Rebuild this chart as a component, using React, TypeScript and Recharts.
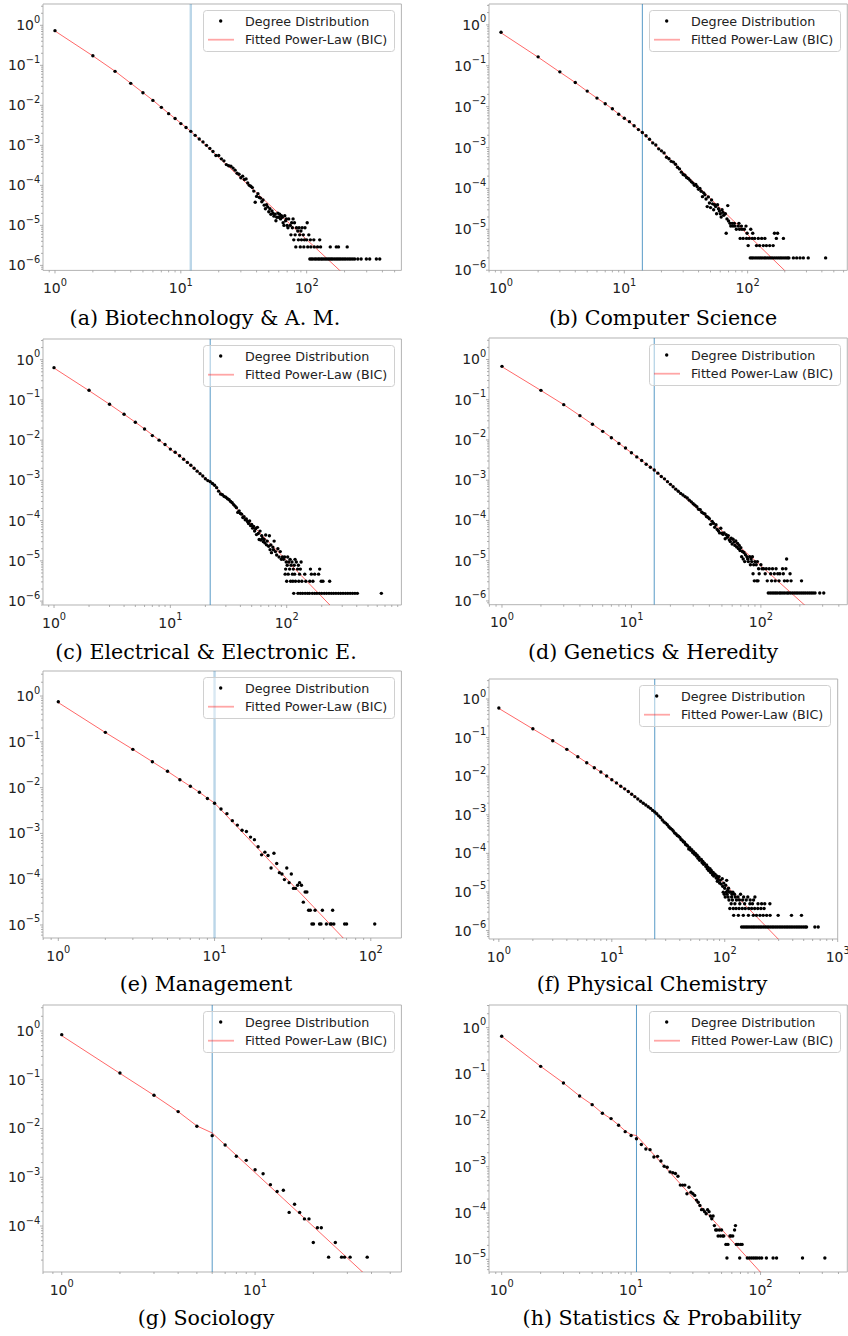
import React from 'react'
import { ComposedChart, Scatter, Line, XAxis, YAxis, ReferenceLine, ReferenceArea } from 'recharts'

type Pt = [number, number]

// (a) Biotechnology & A. M.
const bioDegree: Pt[] = [
  [1, 0.735], [2, 0.174], [3, 0.0708], [4, 0.0355], [5, 0.0207], [6, 0.0133], [7, 0.0089], [8, 0.0062], [9, 0.0047], [10, 0.0035], [11, 0.0028], [12, 0.00224],
  [13, 1.78e-3], [14, 1.44e-3], [15, 1.22e-3], [16, 1.0e-3], [17, 8.4e-4], [18, 7.0e-4], [19, 5.6e-4], [20, 5.6e-4], [21, 4.6e-4], [22, 4.1e-4], [23, 3.3e-4], [24, 3.1e-4], [25, 3.0e-4], [26, 2.7e-4], [27, 2.4e-4], [28, 2.0e-4], [29, 1.9e-4], [30, 1.55e-4], [31, 1.7e-4], [32, 1.4e-4], [33, 1.45e-4], [34, 1.15e-4], [35, 1.0e-4], [36, 9.5e-5], [37, 8.8e-5], [38, 7.2e-5], [39, 3.8e-5], [40, 5.3e-5], [41, 6.2e-5], [42, 5.0e-5], [43, 4.8e-5], [44, 3.9e-5], [45, 4.3e-5], [46, 3.2e-5], [47, 2.6e-5], [48, 3.3e-5], [49, 2.9e-5], [50, 2.2e-5], [51, 2.6e-5], [52, 1.9e-5], [53, 2.3e-5], [54, 2.0e-5], [55, 1.7e-5], [56, 1.9e-5], [57, 1.3e-5], [58, 1.6e-5], [59, 2.03e-5], [60, 1.6e-5], [61, 1.9e-5], [62, 1.45e-5], [63, 1.74e-5], [64, 1.6e-5], [65, 1.16e-5], [66, 1.0e-5], [67, 1.74e-5], [68, 1.3e-5],
  [69, 1.45e-5], [72, 1.45e-5], [78, 1.45e-5], [76, 1.16e-5], [80, 1.16e-5], [101, 1.16e-5], [70, 1.0e-5], [74, 1.0e-5],
  [71, 8.7e-6], [77, 8.7e-6], [83, 8.7e-6], [87, 8.7e-6], [92, 8.7e-6], [97, 8.7e-6], [85, 7.25e-6], [90, 7.25e-6],
  [75, 5.8e-6], [81, 5.8e-6], [88, 5.8e-6], [94, 5.8e-6], [104, 5.8e-6],
  [79, 4.35e-6], [86, 4.35e-6], [91, 4.35e-6], [96, 4.35e-6], [100, 4.35e-6], [107, 4.35e-6], [114, 4.35e-6], [127, 4.35e-6],
  [82, 2.9e-6], [89, 2.9e-6], [95, 2.9e-6], [102, 2.9e-6], [108, 2.9e-6], [115, 2.9e-6], [122, 2.9e-6], [129, 2.9e-6], [154, 2.9e-6], [172, 2.9e-6], [179, 2.9e-6], [210, 2.9e-6],
  [106, 1.45e-6], [109, 1.45e-6], [112, 1.45e-6], [116, 1.45e-6], [119, 1.45e-6], [123, 1.45e-6], [126, 1.45e-6], [130, 1.45e-6], [133, 1.45e-6], [137, 1.45e-6], [141, 1.45e-6], [145, 1.45e-6], [149, 1.45e-6], [153, 1.45e-6], [157, 1.45e-6], [161, 1.45e-6], [166, 1.45e-6], [171, 1.45e-6], [176, 1.45e-6], [181, 1.45e-6], [186, 1.45e-6], [192, 1.45e-6], [198, 1.45e-6], [204, 1.45e-6], [211, 1.45e-6], [218, 1.45e-6], [225, 1.45e-6], [233, 1.45e-6], [241, 1.45e-6], [255, 1.45e-6], [271, 1.45e-6], [298, 1.45e-6], [317, 1.45e-6], [358, 1.45e-6], [381, 1.45e-6],
]
const bioFit: Pt[] = [[1, 0.72], [2, 0.172], [3, 0.0715], [4, 0.0357], [5, 0.0208], [6, 0.0134], [7, 0.0089], [8, 0.0063], [9, 0.0047], [10, 0.0036], [11, 0.0028], [12, 0.00224], [250, 3.0e-7]]

// (b) Computer Science
const csDegree: Pt[] = [
  [1, 0.66], [2, 0.165], [3, 0.071], [4, 0.039], [5, 0.024], [6, 0.0162], [7, 0.0118], [8, 0.0089], [9, 0.0065], [10, 0.0052], [11, 0.0043], [12, 0.0034], [13, 0.00275], [14, 0.00233],
  [15, 1.95e-3], [16, 1.6e-3], [17, 1.3e-3], [18, 1.15e-3], [19, 9.3e-4], [20, 8.3e-4], [21, 7.4e-4], [22, 5.8e-4], [23, 5.3e-4], [24, 4.6e-4], [25, 4.4e-4], [26, 3.9e-4], [27, 3.3e-4], [28, 3.0e-4], [29, 2.5e-4], [30, 2.2e-4], [31, 2.1e-4], [32, 1.85e-4], [33, 1.75e-4], [34, 1.6e-4], [35, 1.45e-4], [36, 1.35e-4], [37, 1.2e-4], [38, 1.25e-4], [39, 1.1e-4], [40, 9.5e-5], [41, 1.0e-4], [42, 8.5e-5], [43, 6.3e-5], [44, 7.8e-5], [45, 7.0e-5], [46, 5.5e-5], [47, 3.6e-5], [48, 6.2e-5], [49, 4.4e-5], [50, 3.4e-5], [51, 5.2e-5], [52, 4.2e-5], [53, 3.0e-5], [54, 4.0e-5], [55, 3.6e-5], [56, 2.4e-5], [57, 4.0e-5], [58, 3.2e-5], [59, 2.8e-5], [60, 2.4e-5], [61, 2.0e-5], [62, 3.0e-5], [63, 2.6e-5], [64, 2.2e-5], [66, 2.4e-5], [68, 1.8e-5], [69, 3.8e-5], [70, 1.6e-5], [72, 1.4e-5], [73, 1.2e-5], [75, 1.4e-5], [78, 1.4e-5], [85, 1.4e-5], [89, 1.2e-5],
  [76, 1.2e-5], [79, 1.2e-5], [84, 1.2e-5], [97, 1.2e-5], [81, 1.0e-5], [86, 1.0e-5], [90, 1.0e-5], [94, 1.0e-5], [106, 1.0e-5],
  [67, 8e-6], [99, 8e-6], [110, 8e-6], [165, 8e-6], [175, 8e-6],
  [87, 6e-6], [92, 6e-6], [98, 6e-6], [103, 6e-6], [109, 6e-6], [114, 6e-6], [122, 6e-6], [130, 6e-6], [138, 6e-6], [171, 6e-6], [195, 6e-6],
  [101, 4e-6], [118, 4e-6], [125, 4e-6], [134, 4e-6], [142, 4e-6], [151, 4e-6], [161, 4e-6],
  [105, 2e-6], [108, 2e-6], [111, 2e-6], [115, 2e-6], [119, 2e-6], [123, 2e-6], [127, 2e-6], [131, 2e-6], [136, 2e-6], [140, 2e-6], [145, 2e-6], [150, 2e-6], [155, 2e-6], [160, 2e-6], [166, 2e-6], [172, 2e-6], [178, 2e-6], [184, 2e-6], [190, 2e-6], [197, 2e-6], [204, 2e-6], [211, 2e-6], [216, 2e-6], [235, 2e-6], [250, 2e-6], [266, 2e-6], [283, 2e-6], [310, 2e-6], [429, 2e-6],
]
const csFit: Pt[] = [[1, 0.64], [2, 0.162], [3, 0.07], [4, 0.039], [5, 0.0238], [6, 0.0162], [7, 0.0118], [8, 0.0088], [9, 0.0066], [10, 0.0052], [12, 0.0034], [14, 0.00233], [250, 5.1e-7]]

// (c) Electrical & Electronic E.
const eeDegree: Pt[] = [
  [1, 0.635], [2, 0.174], [3, 0.078], [4, 0.044], [5, 0.0278], [6, 0.019], [7, 0.013], [8, 0.01], [9, 0.0078], [10, 0.006], [11, 0.005], [12, 0.0041], [13, 0.00335], [14, 0.0028], [15, 0.00237], [16, 0.002], [17, 0.0017], [18, 0.00147], [19, 0.00129], [20, 0.0011], [21, 0.00099], [22, 0.00093],
  [23, 8.4e-4], [24, 7.6e-4], [25, 6.6e-4], [26, 5.4e-4], [27, 4.6e-4], [28, 4.4e-4], [29, 4.0e-4], [30, 3.8e-4], [31, 3.5e-4], [32, 3.3e-4], [33, 3.0e-4], [34, 2.8e-4], [35, 2.5e-4], [36, 2.3e-4], [37, 2.1e-4], [38, 1.6e-4], [39, 1.75e-4], [40, 1.5e-4], [41, 1.45e-4], [42, 1.2e-4], [43, 1.25e-4], [44, 1.05e-4], [45, 1.1e-4], [46, 9.5e-5], [47, 8.5e-5], [48, 9.8e-5], [49, 7.5e-5], [50, 8.0e-5], [51, 6.5e-5], [52, 7.2e-5], [53, 5.5e-5], [54, 6.3e-5], [55, 4.5e-5], [56, 6.8e-5], [57, 4.8e-5], [58, 3.4e-5], [59, 5.5e-5], [60, 3.3e-5], [61, 4.2e-5], [62, 3.6e-5], [63, 3.0e-5], [64, 3.4e-5], [65, 2.8e-5], [66, 4.4e-5], [67, 2.5e-5], [68, 3.1e-5], [70, 2.3e-5], [71, 4.2e-5], [72, 1.9e-5], [73, 2.5e-5], [74, 1.6e-5], [76, 2.2e-5], [77, 1.9e-5], [78, 3.1e-5], [80, 1.7e-5], [82, 1.4e-5], [84, 2.0e-5], [86, 1.25e-5], [88, 1.7e-5], [90, 1.1e-5],
  [92, 1.25e-5], [96, 1.25e-5], [102, 1.25e-5], [94, 1.09e-5], [107, 1.09e-5], [118, 1.09e-5],
  [99, 9.4e-6], [104, 9.4e-6], [111, 9.4e-6], [121, 9.4e-6], [133, 9.4e-6], [101, 7.8e-6], [109, 7.8e-6], [116, 7.8e-6], [126, 7.8e-6],
  [98, 6.24e-6], [106, 6.24e-6], [114, 6.24e-6], [124, 6.24e-6], [131, 6.24e-6], [160, 6.24e-6], [192, 6.24e-6],
  [97, 4.68e-6], [103, 4.68e-6], [112, 4.68e-6], [117, 4.68e-6], [129, 4.68e-6], [143, 4.68e-6], [163, 4.68e-6], [174, 4.68e-6], [188, 4.68e-6],
  [100, 3.12e-6], [108, 3.12e-6], [113, 3.12e-6], [119, 3.12e-6], [127, 3.12e-6], [135, 3.12e-6], [146, 3.12e-6], [158, 3.12e-6], [168, 3.12e-6], [198, 3.12e-6], [205, 3.12e-6], [234, 3.12e-6],
  [115, 1.56e-6], [125, 1.56e-6], [131, 1.56e-6], [137, 1.56e-6], [144, 1.56e-6], [151, 1.56e-6], [157, 1.56e-6], [166, 1.56e-6], [174, 1.56e-6], [182, 1.56e-6], [191, 1.56e-6], [200, 1.56e-6], [210, 1.56e-6], [220, 1.56e-6], [231, 1.56e-6], [242, 1.56e-6], [253, 1.56e-6], [265, 1.56e-6], [278, 1.56e-6], [291, 1.56e-6], [305, 1.56e-6], [320, 1.56e-6], [335, 1.56e-6], [351, 1.56e-6], [368, 1.56e-6], [386, 1.56e-6], [405, 1.56e-6], [651, 1.56e-6],
]
const eeFit: Pt[] = [[1, 0.62], [2, 0.17], [3, 0.078], [4, 0.044], [5, 0.028], [6, 0.019], [8, 0.0101], [10, 0.006], [12, 0.0041], [14, 0.0028], [16, 0.002], [18, 0.00147], [20, 0.00111], [22, 0.00093], [300, 3.86e-7]]

// (d) Genetics & Heredity
const genDegree: Pt[] = [
  [1, 0.676], [2, 0.171], [3, 0.0754], [4, 0.0402], [5, 0.0245], [6, 0.0164], [7, 0.0114], [8, 0.0082], [9, 0.0063], [10, 0.0048], [11, 0.0038], [12, 0.0031], [13, 0.0025], [14, 0.0021], [15, 0.00179],
  [16, 1.5e-3], [17, 1.24e-3], [18, 1.08e-3], [19, 9.2e-4], [20, 7.9e-4], [21, 6.9e-4], [22, 6.0e-4], [23, 5.3e-4], [24, 4.7e-4], [25, 4.3e-4], [26, 3.9e-4], [27, 3.6e-4], [28, 3.2e-4], [29, 2.9e-4], [30, 2.6e-4], [31, 2.4e-4], [32, 2.2e-4], [33, 1.9e-4], [34, 1.85e-4], [35, 1.6e-4], [36, 1.5e-4], [37, 1.45e-4], [38, 1.25e-4], [39, 1.2e-4], [40, 1.1e-4], [41, 8.0e-5], [42, 9.5e-5], [43, 8.5e-5], [44, 6.8e-5], [45, 7.8e-5], [46, 6.0e-5], [47, 5.5e-5], [48, 4.9e-5], [49, 6.4e-5], [50, 4.8e-5], [51, 4.5e-5], [52, 4.9e-5], [53, 3.5e-5], [54, 4.4e-5], [55, 3.8e-5], [56, 4.2e-5], [57, 3.3e-5], [58, 3.0e-5], [59, 3.6e-5], [60, 2.6e-5], [61, 3.4e-5], [62, 2.9e-5], [63, 2.4e-5], [64, 3.1e-5], [65, 2.2e-5], [66, 2.7e-5], [67, 2.0e-5], [68, 2.4e-5], [69, 1.8e-5], [70, 2.1e-5], [72, 1.7e-5], [74, 1.6e-5], [76, 1.4e-5],
  [71, 1.26e-5], [78, 1.26e-5], [82, 1.26e-5], [86, 1.26e-5], [73, 1.1e-5], [79, 1.1e-5], [84, 1.1e-5], [158, 1.1e-5],
  [75, 9.5e-6], [80, 9.5e-6], [85, 9.5e-6], [90, 9.5e-6], [94, 9.5e-6], [83, 7.9e-6], [88, 7.9e-6], [92, 7.9e-6], [100, 7.9e-6],
  [96, 6.3e-6], [102, 6.3e-6], [105, 6.3e-6], [110, 6.3e-6], [116, 6.3e-6], [123, 6.3e-6], [131, 6.3e-6], [147, 6.3e-6], [156, 6.3e-6],
  [87, 4.74e-6], [97, 4.74e-6], [108, 4.74e-6], [119, 4.74e-6], [127, 4.74e-6], [135, 4.74e-6], [140, 4.74e-6], [149, 4.74e-6], [168, 4.74e-6],
  [89, 3.16e-6], [93, 3.16e-6], [95, 3.16e-6], [112, 3.16e-6], [121, 3.16e-6], [129, 3.16e-6], [138, 3.16e-6], [152, 3.16e-6], [160, 3.16e-6], [171, 3.16e-6], [206, 3.16e-6],
  [114, 1.58e-6], [118, 1.58e-6], [122, 1.58e-6], [126, 1.58e-6], [130, 1.58e-6], [134, 1.58e-6], [139, 1.58e-6], [143, 1.58e-6], [148, 1.58e-6], [153, 1.58e-6], [159, 1.58e-6], [163, 1.58e-6], [169, 1.58e-6], [175, 1.58e-6], [181, 1.58e-6], [187, 1.58e-6], [193, 1.58e-6], [200, 1.58e-6], [207, 1.58e-6], [214, 1.58e-6], [221, 1.58e-6], [229, 1.58e-6], [237, 1.58e-6], [245, 1.58e-6], [253, 1.58e-6], [262, 1.58e-6], [285, 1.58e-6], [306, 1.58e-6],
]
const genFit: Pt[] = [[1, 0.66], [2, 0.17], [3, 0.0755], [4, 0.0403], [5, 0.0246], [6, 0.0164], [7, 0.0115], [8, 0.0083], [10, 0.0048], [12, 0.0031], [15, 0.00179], [250, 5.3e-7]]

// (e) Management
const mgmtDegree: Pt[] = [
  [1, 0.752], [2, 0.161], [3, 0.0685], [4, 0.0368], [5, 0.0227], [6, 0.0149], [7, 0.0107], [8, 0.0079], [9, 0.0058], [10, 0.00454],
  [11, 0.0034], [12, 0.0027], [13, 0.0019], [14, 0.00152], [15, 0.00117], [16, 0.0011], [17, 8.3e-4], [18, 7.3e-4], [19, 5.1e-4], [20, 3.4e-4], [21, 3.9e-4], [22, 3.3e-4], [23, 1.76e-4], [24, 3.7e-4], [25, 2.2e-4], [26, 1.39e-4], [27, 1.3e-4], [28, 9.8e-5], [29, 1.76e-4], [30, 8.4e-5], [31, 1.3e-4], [32, 6.3e-5], [33, 6.3e-5], [34, 7.35e-5], [35, 8.4e-5], [36, 7.35e-5], [37, 3.15e-5], [38, 5.25e-5], [39, 5.25e-5], [40, 2.1e-5], [41, 2.1e-5], [42, 1.05e-5], [43, 1.05e-5], [44, 2.1e-5], [47, 1.05e-5], [48, 1.05e-5], [49, 2.1e-5], [52, 1.05e-5], [55, 1.05e-5], [56, 1.05e-5], [57, 2.1e-5], [58, 1.05e-5], [68, 1.05e-5], [70, 1.05e-5], [106, 1.05e-5],
]
const mgmtFit: Pt[] = [[1, 0.72], [2, 0.16], [3, 0.0685], [4, 0.0368], [5, 0.0227], [6, 0.015], [7, 0.0107], [8, 0.0079], [9, 0.0059], [10, 0.0046], [80, 2.7e-6]]

// (f) Physical Chemistry
const pchemDegree: Pt[] = [
  [1, 0.585], [2, 0.17], [3, 0.083], [4, 0.0497], [5, 0.032], [6, 0.0224], [7, 0.0166], [8, 0.0128], [9, 0.0101], [10, 0.0081], [11, 0.0067], [12, 0.0055], [13, 0.0047], [14, 0.004], [15, 0.0034], [16, 0.00295], [17, 0.00257], [18, 0.00224], [19, 0.002], [20, 0.0018], [21, 0.00162], [22, 0.00147], [23, 0.0013], [24, 0.00118],
  [25, 1.06e-3], [26, 9.4e-4], [27, 8.5e-4], [28, 7.3e-4], [29, 6.5e-4], [30, 6.1e-4], [31, 5.5e-4], [32, 4.9e-4], [33, 4.5e-4], [34, 4.2e-4], [35, 3.8e-4], [36, 3.4e-4], [37, 3.2e-4], [38, 2.9e-4], [39, 2.8e-4], [40, 2.6e-4], [41, 2.3e-4], [42, 2.2e-4], [43, 2.0e-4], [44, 1.95e-4], [45, 1.7e-4], [46, 1.65e-4], [47, 1.55e-4], [48, 1.3e-4], [49, 1.4e-4], [50, 1.2e-4], [51, 1.25e-4], [52, 1.05e-4], [53, 1.1e-4], [54, 9.5e-5], [55, 1.0e-4], [56, 8.5e-5], [57, 9.0e-5], [58, 7.5e-5], [59, 8.0e-5], [60, 6.6e-5], [62, 7.0e-5], [63, 5.8e-5], [64, 6.2e-5], [65, 5.2e-5], [66, 5.6e-5], [68, 4.6e-5], [69, 5.0e-5], [70, 4.0e-5], [71, 4.4e-5], [72, 3.6e-5], [74, 4.0e-5], [75, 3.2e-5], [76, 3.6e-5], [78, 2.8e-5], [79, 3.2e-5], [80, 2.6e-5], [82, 2.9e-5], [84, 2.3e-5], [85, 2.6e-5], [86, 1.9e-5], [87, 2.2e-5], [89, 2.5e-5], [90, 1.7e-5], [91, 2.0e-5], [93, 1.6e-5], [95, 2.2e-5], [96, 1.4e-5], [98, 1.7e-5], [100, 1.25e-5], [102, 1.5e-5], [104, 2.0e-5], [106, 1.1e-5], [108, 1.25e-5], [110, 1.0e-5],
  [97, 9.9e-6], [103, 9.9e-6], [113, 9.9e-6], [118, 9.9e-6], [99, 8.7e-6], [105, 8.7e-6], [116, 8.7e-6], [122, 8.7e-6], [138, 8.7e-6],
  [101, 7.4e-6], [107, 7.4e-6], [115, 7.4e-6], [124, 7.4e-6], [131, 7.4e-6], [147, 7.4e-6], [160, 7.4e-6], [185, 7.4e-6],
  [109, 6.2e-6], [117, 6.2e-6], [127, 6.2e-6], [135, 6.2e-6], [144, 6.2e-6], [155, 6.2e-6], [168, 6.2e-6], [180, 6.2e-6],
  [114, 4.96e-6], [123, 4.96e-6], [136, 4.96e-6], [150, 4.96e-6], [167, 4.96e-6], [176, 4.96e-6], [197, 4.96e-6], [212, 4.96e-6], [226, 4.96e-6], [251, 4.96e-6],
  [111, 3.72e-6], [119, 3.72e-6], [126, 3.72e-6], [134, 3.72e-6], [143, 3.72e-6], [152, 3.72e-6], [163, 3.72e-6], [173, 3.72e-6], [184, 3.72e-6], [196, 3.72e-6], [209, 3.72e-6], [223, 3.72e-6],
  [120, 2.48e-6], [132, 2.48e-6], [146, 2.48e-6], [162, 2.48e-6], [179, 2.48e-6], [191, 2.48e-6], [205, 2.48e-6], [219, 2.48e-6], [235, 2.48e-6], [252, 2.48e-6], [297, 2.48e-6], [390, 2.48e-6], [478, 2.48e-6],
  [141, 1.24e-6], [146, 1.24e-6], [151, 1.24e-6], [156, 1.24e-6], [161, 1.24e-6], [167, 1.24e-6], [173, 1.24e-6], [179, 1.24e-6], [185, 1.24e-6], [192, 1.24e-6], [199, 1.24e-6], [206, 1.24e-6], [213, 1.24e-6], [221, 1.24e-6], [229, 1.24e-6], [237, 1.24e-6], [245, 1.24e-6], [254, 1.24e-6], [263, 1.24e-6], [272, 1.24e-6], [282, 1.24e-6], [292, 1.24e-6], [303, 1.24e-6], [314, 1.24e-6], [325, 1.24e-6], [337, 1.24e-6], [349, 1.24e-6], [361, 1.24e-6], [374, 1.24e-6], [387, 1.24e-6], [401, 1.24e-6], [416, 1.24e-6], [431, 1.24e-6], [446, 1.24e-6], [462, 1.24e-6], [479, 1.24e-6], [497, 1.24e-6], [515, 1.24e-6], [530, 1.24e-6], [628, 1.24e-6], [672, 1.24e-6],
]
const pchemFit: Pt[] = [[1, 0.57], [2, 0.168], [3, 0.083], [4, 0.0497], [5, 0.032], [6, 0.0224], [8, 0.0128], [10, 0.0081], [12, 0.0055], [14, 0.004], [16, 0.00295], [18, 0.00224], [20, 0.0018], [22, 0.00147], [24, 0.00118], [350, 3.7e-7]]

// (g) Sociology
const socDegree: Pt[] = [
  [1, 0.84], [2, 0.137], [3, 0.048], [4, 0.0222], [5, 0.0111], [6, 0.00713], [7, 0.00459], [8, 0.00269], [9, 0.00222], [10, 0.00143], [11, 0.00118], [12, 7.05e-4], [13, 5.1e-4], [14, 5.4e-4], [15, 1.9e-4], [16, 2.8e-4], [17, 1.9e-4], [18, 1.4e-4], [19, 1.4e-4], [20, 4.6e-5], [21, 9.2e-5], [22, 9.2e-5], [24, 2.3e-5], [26, 4.6e-5], [28, 2.3e-5], [29, 2.3e-5], [31, 2.3e-5], [38, 2.3e-5],
]
const socFit: Pt[] = [[1, 0.8], [2, 0.135], [3, 0.048], [4, 0.0222], [5, 0.0113], [6, 0.0081], [40, 7.7e-6]]

// (h) Statistics & Probability
const statDegree: Pt[] = [
  [1, 0.65], [2, 0.146], [3, 0.064], [4, 0.0335], [5, 0.0218], [6, 0.0142], [7, 0.0109], [8, 0.0078], [9, 0.0057], [10, 0.0047], [11, 0.004],
  [12, 0.003], [13, 0.0024], [14, 0.00233], [15, 0.00162], [16, 0.00167], [17, 0.00132], [18, 0.00102], [19, 0.00097], [20, 0.00077], [21, 0.00074], [22, 0.00071], [23, 0.00062], [24, 0.0004], [25, 0.0004], [26, 0.0004], [27, 0.00026], [28, 0.00036], [29, 0.00028], [30, 0.00026], [31, 0.00024], [32, 0.00019], [33, 0.00017], [34, 0.000145], [35, 0.000118], [36, 0.000118], [37, 0.000107], [38, 9.6e-5], [39, 0.000118], [40, 0.000107], [41, 8.6e-5], [42, 7.5e-5], [43, 8.6e-5], [44, 5.35e-5], [45, 4.3e-5], [46, 4.3e-5], [47, 3.2e-5], [48, 4.3e-5], [49, 3.2e-5], [50, 4.3e-5], [51, 3.2e-5], [52, 3.2e-5], [54, 2.1e-5], [55, 1.07e-5], [56, 2.1e-5], [58, 3.2e-5], [59, 3.2e-5], [61, 3.2e-5], [63, 4.3e-5], [64, 5.35e-5], [65, 2.1e-5], [67, 2.1e-5], [69, 1.07e-5], [70, 2.1e-5], [72, 2.1e-5], [79, 1.07e-5], [82, 1.07e-5], [85, 1.07e-5], [88, 1.07e-5], [91, 1.07e-5], [94, 1.07e-5], [98, 1.07e-5], [102, 1.07e-5], [111, 1.07e-5], [125, 1.07e-5], [133, 1.07e-5], [211, 1.07e-5], [314, 1.07e-5],
]
const statFit: Pt[] = [[1, 0.65], [2, 0.146], [3, 0.064], [4, 0.0335], [5, 0.0218], [6, 0.0142], [7, 0.0108], [8, 0.0079], [9, 0.0059], [10, 0.0049], [11, 0.0047], [120, 3.0e-6]]

// major tick labels (powers of ten)
const xMajor2 = [1, 10, 100]
const xMajor3 = [1, 10, 100, 1000]
const xMajor1 = [1, 10]
const yMajor6 = [1, 0.1, 0.01, 1e-3, 1e-4, 1e-5, 1e-6]
const yMajor5 = [1, 0.1, 0.01, 1e-3, 1e-4, 1e-5]
const yMajor4 = [1, 0.1, 0.01, 1e-3, 1e-4]

interface PanelSpec {
  caption: string
  capX: number
  capY: number
  box: [number, number, number, number]
  xDom: [number, number]
  yDom: [number, number]
  xMajor: number[]
  yMajor: number[]
  degree: Pt[]
  fit: Pt[]
  xmin: number
  faint?: boolean
}

const panels: PanelSpec[] = [
  { caption: '(a) Biotechnology & A. M.', capX: 205, capY: 318, box: [43.3, 4.3, 401.7, 270.7], xDom: [0.803, 566], yDom: [7.5e-7, 3.41], xMajor: xMajor2, yMajor: yMajor6, degree: bioDegree, fit: bioFit, xmin: 12, faint: true },
  { caption: '(b) Computer Science', capX: 663, capY: 318, box: [489, 4.3, 847.3, 270.7], xDom: [0.799, 643], yDom: [9.9e-7, 3.24], xMajor: xMajor2, yMajor: yMajor6, degree: csDegree, fit: csFit, xmin: 14 },
  { caption: '(c) Electrical & Electronic E.', capX: 206, capY: 652, box: [43.3, 339, 401.7, 605], xDom: [0.804, 968], yDom: [8.0e-7, 3.27], xMajor: xMajor2, yMajor: yMajor6, degree: eeDegree, fit: eeFit, xmin: 22 },
  { caption: '(d) Genetics & Heredity', capX: 653, capY: 652, box: [489, 338.3, 847.3, 605], xDom: [0.794, 465], yDom: [8.07e-7, 3.42], xMajor: xMajor2, yMajor: yMajor6, degree: genDegree, fit: genFit, xmin: 15 },
  { caption: '(e) Management', capX: 206, capY: 984, box: [43.3, 671.3, 401.7, 938.3], xDom: [0.798, 157], yDom: [5.2e-6, 3.52], xMajor: xMajor2, yMajor: yMajor5, degree: mgmtDegree, fit: mgmtFit, xmin: 10, faint: true },
  { caption: '(f) Physical Chemistry', capX: 652, capY: 984, box: [489, 679.3, 837.7, 939.3], xDom: [0.818, 1000], yDom: [6.05e-7, 3.3], xMajor: xMajor3, yMajor: yMajor6, degree: pchemDegree, fit: pchemFit, xmin: 24 },
  { caption: '(g) Sociology', capX: 206, capY: 1318, box: [43.3, 1005.3, 401.7, 1272.3], xDom: [0.8, 57.1], yDom: [1.14e-5, 3.41], xMajor: xMajor1, yMajor: yMajor4, degree: socDegree, fit: socFit, xmin: 6 },
  { caption: '(h) Statistics & Probability', capX: 662, capY: 1318, box: [489, 1005.3, 847.3, 1272.3], xDom: [0.798, 468], yDom: [5.33e-6, 3.08], xMajor: xMajor2, yMajor: yMajor5, degree: statDegree, fit: statFit, xmin: 11 },
]

const SANS = '"DejaVu Sans", sans-serif'
const SERIF = '"DejaVu Serif", serif'
const SPINE = '#b3b3b3'

const YW = 50
const XH = 30
const MT = 6
const MR = 14
const LW = 192
const LH = 42

function isMajor(v: number) {
  const l = Math.log10(v)
  return Math.abs(l - Math.round(l)) < 1e-6
}
function expLabel(v: number) {
  const e = Math.round(Math.log10(v))
  return e < 0 ? '\u2212' + -e : String(e)
}
// majors plus the 2..9 minor ticks of a log axis
function withMinor(major: number[], dom: [number, number]) {
  const out = [...major]
  const lo = Math.floor(Math.log10(dom[0]))
  const hi = Math.ceil(Math.log10(dom[1]))
  for (let k = lo; k <= hi; k++) {
    for (let m = 2; m <= 9; m++) {
      const v = m * Math.pow(10, k)
      if (v >= dom[0] && v <= dom[1]) out.push(v)
    }
  }
  return out
}

const XTick = (p: any) => {
  const v = p.payload.value
  const major = isMajor(v)
  return (
    <g>
      <line x1={p.x} x2={p.x} y1={p.y} y2={p.y + (major ? 3 : 2)} stroke="#999" strokeWidth={0.8} />
      {major && (
        <text x={p.x} y={p.y + 22.8} textAnchor="middle" fontFamily={SANS} fontSize={14} fill="#222">
          10<tspan dy={-7.5} fontSize={9.8}>{expLabel(v)}</tspan>
        </text>
      )}
    </g>
  )
}

const YTick = (p: any) => {
  const v = p.payload.value
  const major = isMajor(v)
  return (
    <g>
      <line x1={p.x - (major ? 3 : 2)} x2={p.x} y1={p.y} y2={p.y} stroke="#999" strokeWidth={0.8} />
      {major && (
        <text x={p.x - 2.8} y={p.y + 5} textAnchor="end" fontFamily={SANS} fontSize={14} fill="#222">
          10<tspan dy={-7.5} fontSize={9.8}>{expLabel(v)}</tspan>
        </text>
      )}
    </g>
  )
}

const Dot = (p: any) => <circle cx={p.cx} cy={p.cy} r={1.7} fill="#000" />

function LegendBox({ left, top }: { left: number; top: number }) {
  return (
    <svg style={{ position: 'absolute', left, top }} width={LW} height={LH}>
      <rect x={0.5} y={0.5} width={LW - 1} height={LH - 1} rx={3} fill="#fff" fillOpacity={0.45} stroke="#d0d0d0" />
      <circle cx={17.7} cy={11} r={1.7} fill="#000" />
      <text x={42} y={15.5} fontFamily={SANS} fontSize={12.7} fill="#222">Degree Distribution</text>
      <line x1={5} x2={31} y1={29.7} y2={29.7} stroke="#ff0000" strokeOpacity={0.35} strokeWidth={1.8} />
      <text x={42} y={34.2} fontFamily={SANS} fontSize={12.7} fill="#222">Fitted Power-Law (BIC)</text>
    </svg>
  )
}

function Panel({ s }: { s: PanelSpec }) {
  const [l, t, r, b] = s.box
  const w = r - l
  const h = b - t
  const pts = s.degree.map(([x, y]) => ({ x, y }))
  const fit = s.fit.map(([x, y]) => ({ x, y }))

  return (
    <>
      <div style={{ position: 'absolute', left: l - YW, top: t - MT }}>
        <ComposedChart width={w + YW + MR} height={h + MT + XH} margin={{ top: MT, right: MR, bottom: 0, left: 0 }}>
          <XAxis
            dataKey="x" type="number" scale="log" domain={s.xDom} allowDataOverflow
            ticks={withMinor(s.xMajor, s.xDom)} interval={0} tick={XTick}
            tickLine={false} axisLine={false} tickSize={0} tickMargin={0} height={XH}
          />
          <YAxis
            dataKey="y" type="number" scale="log" domain={s.yDom} allowDataOverflow
            ticks={withMinor(s.yMajor, s.yDom)} interval={0} tick={YTick}
            tickLine={false} axisLine={false} tickSize={0} tickMargin={0} width={YW}
          />
          <ReferenceArea x1={s.xDom[0]} x2={s.xDom[1]} y1={s.yDom[0]} y2={s.yDom[1]} fill="none" stroke={SPINE} strokeWidth={1} ifOverflow="visible" />
          <ReferenceLine
            x={s.xmin} stroke="#1f77b4"
            strokeOpacity={s.faint ? 0.3 : 0.75} strokeWidth={s.faint ? 2.4 : 1}
          />
          <Scatter data={pts} shape={Dot} isAnimationActive={false} />
          <Line
            data={fit} dataKey="y" type="linear" stroke="#ff0000" strokeOpacity={0.6} strokeWidth={1}
            dot={false} activeDot={false} isAnimationActive={false}
          />
        </ComposedChart>
      </div>
      <LegendBox left={r - 6.4 - LW} top={t + 5.7} />
      <div
        style={{
          position: 'absolute', left: s.capX - 220, width: 440, top: s.capY - 13, height: 26,
          lineHeight: '26px', textAlign: 'center', fontFamily: SERIF, fontSize: 20.6, color: '#000',
        }}
      >
        {s.caption}
      </div>
    </>
  )
}

export default function App() {
  return (
    <div style={{ position: 'absolute', left: 0, top: 0, width: 848, height: 1336, background: '#fff' }}>
      {panels.map((s) => (
        <Panel key={s.caption} s={s} />
      ))}
    </div>
  )
}
